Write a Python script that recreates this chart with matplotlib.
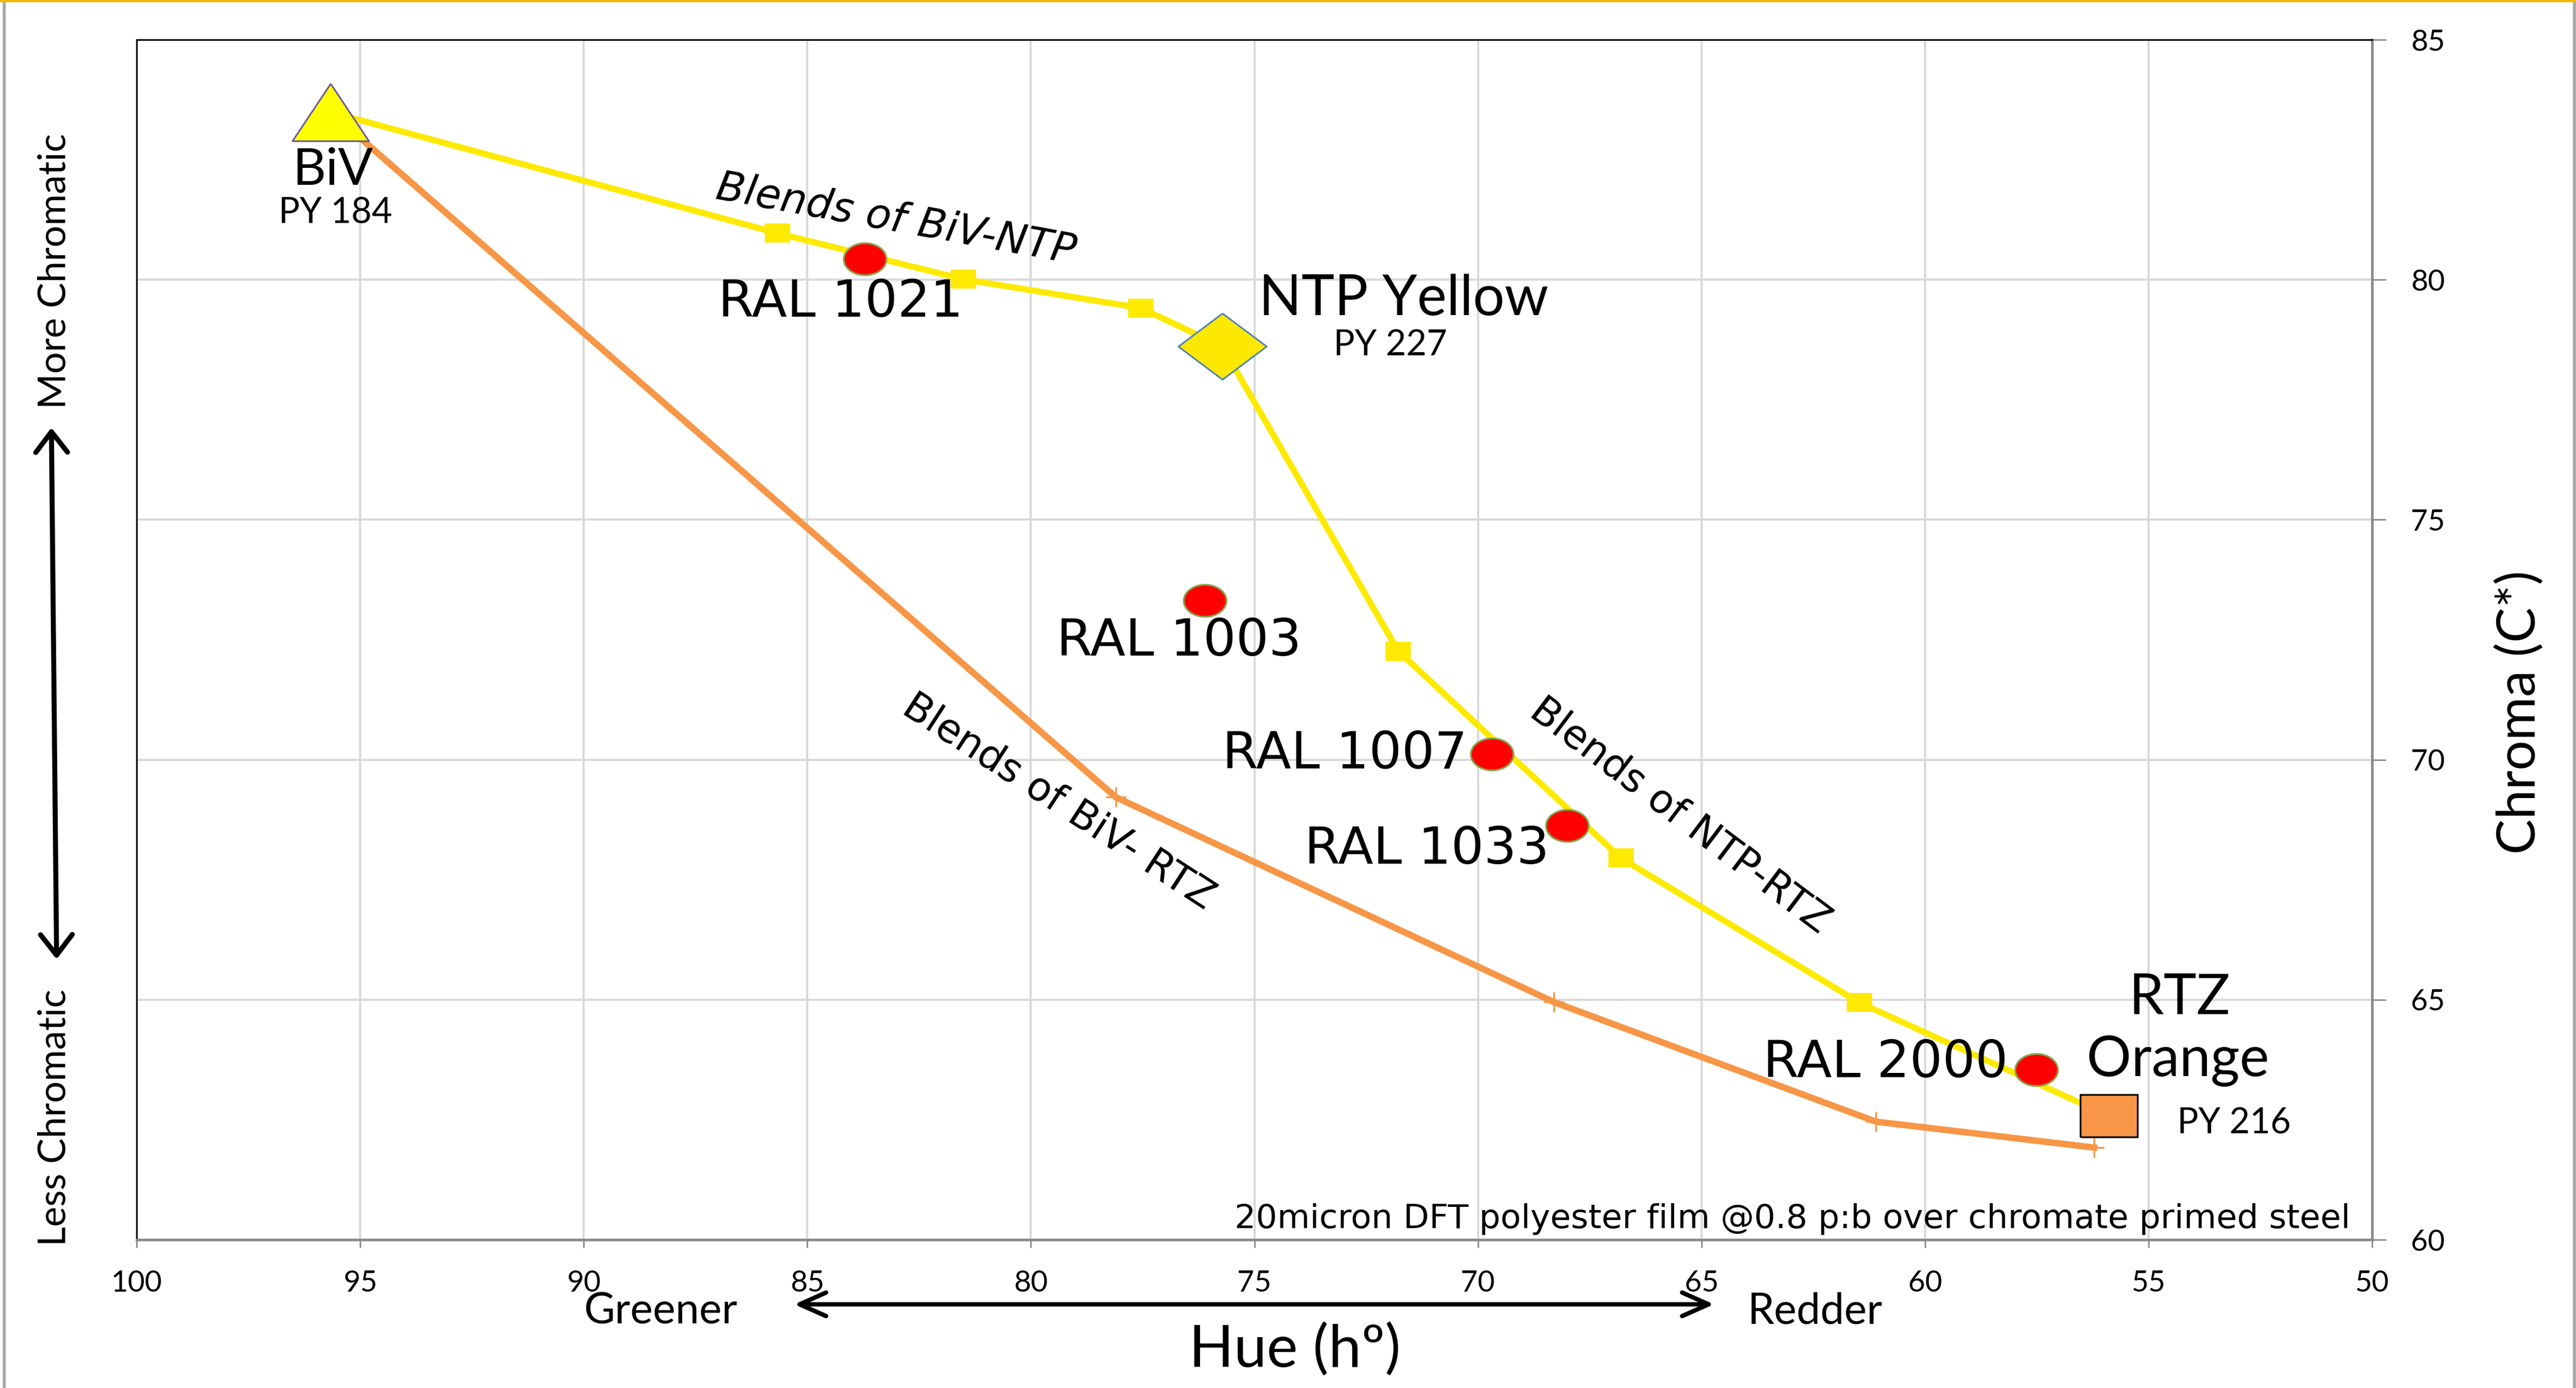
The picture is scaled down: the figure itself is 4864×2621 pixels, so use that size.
import numpy as np
import matplotlib.pyplot as plt
from matplotlib.patches import FancyArrowPatch
from matplotlib.lines import Line2D

W, H = 4864, 2621
DPI = 200

# Data: hue (h) and chroma (C*)
blend_ntp_hue = [95.66, 85.67, 81.51, 77.54, 75.72, 71.78, 66.80, 61.47, 55.89]
blend_ntp_chroma = [83.49, 80.97, 80.01, 79.41, 78.61, 72.26, 67.95, 64.94, 62.58]

blend_rtz_hue = [95.66, 78.10, 68.30, 61.10, 56.22]
blend_rtz_chroma = [83.49, 69.22, 64.95, 62.46, 61.92]

ral_names = ['RAL 1021', 'RAL 1003', 'RAL 1007', 'RAL 1033', 'RAL 2000']
ral_hue = [83.71, 76.11, 69.69, 68.00, 57.51]
ral_chroma = [80.43, 73.32, 70.12, 68.63, 63.54]

biv = (95.66, 83.49)
ntp = (75.72, 78.61)
rtz = (55.89, 62.58)

x_ticks = [100, 95, 90, 85, 80, 75, 70, 65, 60, 55, 50]
y_ticks = [60, 65, 70, 75, 80, 85]

# label anchors (hue, chroma, ha)
ral_label_pos = [(84.26, 79.23, 'center'), (76.68, 72.17, 'center'),
                 (70.24, 69.82, 'right'), (68.40, 67.83, 'right'),
                 (58.14, 63.39, 'right')]

YELLOW = '#FDEA00'
ORANGE = '#F79646'
SANS = ['Lato', 'DejaVu Sans']
WIDE = ['DejaVu Sans']

plt.rcParams['font.family'] = SANS


def px(x, y):
    # figure pixel (from top-left) -> figure fraction
    return x / W, 1 - y / H


fig = plt.figure(figsize=(W / DPI, H / DPI), dpi=DPI)
l, b = px(258, 2341)
r, t = px(4479, 75)
ax = fig.add_axes([l, b, r - l, t - b])

ax.set_xlim(100, 50)
ax.set_ylim(60, 85)
ax.set_xticks(x_ticks)
ax.set_yticks(y_ticks)
ax.grid(True, color='#d9d9d9', lw=1.5)
ax.set_axisbelow(True)

ax.yaxis.tick_right()
ax.tick_params(axis='x', direction='out', length=5.4, width=1.0, color='#888888',
               pad=15, labelsize=20)
ax.tick_params(axis='y', direction='out', length=9.4, width=1.0, color='#888888',
               pad=17, labelsize=20)
for s in ['left', 'top']:
    ax.spines[s].set_color('black')
    ax.spines[s].set_linewidth(1.1)
for s in ['bottom', 'right']:
    ax.spines[s].set_color('#888888')
    ax.spines[s].set_linewidth(1.7)

# marker shapes
rect = [(-1, -0.75), (1, -0.75), (1, 0.75), (-1, 0.75), (-1, -0.75)]
tt = np.linspace(0, 2 * np.pi, 80)
ellipse = np.column_stack([np.cos(tt), 0.75 * np.sin(tt)])
tri = [(0, 0.75), (-1, -0.75), (1, -0.75), (0, 0.75)]
diamond = [(0, 0.75), (1, 0), (0, -0.75), (-1, 0), (0, 0.75)]
rtz_box = [(-1, -0.74), (1, -0.74), (1, 0.74), (-1, 0.74), (-1, -0.74)]

ax.plot(blend_rtz_hue, blend_rtz_chroma, color=ORANGE, lw=4.4, marker='+',
        markersize=14, mew=1.2, markevery=[1, 2, 3, 4], zorder=3)
ax.plot(blend_ntp_hue, blend_ntp_chroma, color=YELLOW, lw=4.2, marker=rect,
        markersize=17, mew=0, markevery=[1, 2, 3, 5, 6, 7], zorder=3)
ax.plot(ral_hue, ral_chroma, ls='none', marker=ellipse, markersize=29,
        mfc='#FF0000', mec='#86A24A', mew=1.2, zorder=4)
ax.plot(*biv, marker=tri, markersize=52, mfc='#FFFF00', mec='#6A55A0', mew=1.1,
        zorder=5, clip_on=False)
ax.plot(*ntp, marker=diamond, markersize=60, mfc='#FCE800', mec='#4F81BD', mew=1.1,
        zorder=5)
ax.plot(*rtz, marker=rtz_box, markersize=39, mfc=ORANGE, mec='black', mew=1.2,
        zorder=5)

for name, (hx, cy, ha) in zip(ral_names, ral_label_pos):
    ax.text(hx, cy, name, ha=ha, va='baseline', fontsize=35, family=WIDE, zorder=6)

ax.text(95.62, 81.98, 'BiV', ha='center', va='baseline', fontsize=35)
ax.text(95.56, 81.18, 'PY 184', ha='center', va='baseline', fontsize=24)
ax.text(74.90, 79.26, 'NTP Yellow', ha='left', va='baseline', fontsize=38)
ax.text(73.23, 78.42, 'PY 227', ha='left', va='baseline', fontsize=24)
ax.text(54.31, 64.70, 'RTZ', ha='center', va='baseline', fontsize=38)
ax.text(54.35, 63.41, 'Orange', ha='center', va='baseline', fontsize=38)
ax.text(54.36, 62.21, 'PY 216', ha='left', va='baseline', fontsize=24)
ax.text(50.49, 60.24, '20micron DFT polyester film @0.8 p:b over chromate primed steel',
        ha='right', va='baseline', fontsize=22.8, family=WIDE)

ax.text(83.01, 81.25, 'Blends of BiV-NTP', rotation=-10.3, rotation_mode='anchor',
        ha='center', va='center', fontsize=28, family=WIDE, style='italic')
ax.text(79.38, 69.11, 'Blends of BiV- RTZ', rotation=-33, rotation_mode='anchor',
        ha='center', va='center', fontsize=27, family=WIDE)
ax.text(65.48, 68.82, 'Blends of NTP-RTZ', rotation=-37, rotation_mode='anchor',
        ha='center', va='center', fontsize=27, family=WIDE)

# axis titles and direction hints
fig.text(*px(2445, 2550), 'Hue (hº)', ha='center', va='center', fontsize=40)
fig.text(*px(4758, 1345), 'Chroma (C*)', ha='center', va='center', fontsize=36,
         rotation=90)
fig.text(*px(1247, 2500), 'Greener', ha='center', va='baseline', fontsize=29)
fig.text(*px(3427, 2500), 'Redder', ha='center', va='baseline', fontsize=29)
fig.text(*px(103, 512), 'More Chromatic', ha='center', va='center', fontsize=26,
         rotation=90)
fig.text(*px(103, 2110), 'Less Chromatic', ha='center', va='center', fontsize=26,
         rotation=90)

fig.add_artist(FancyArrowPatch(px(1494, 2463), px(3242, 2463), transform=fig.transFigure,
                               arrowstyle='<->,head_length=0.45,head_width=0.2',
                               mutation_scale=40, lw=3.0, color='black'))
fig.add_artist(FancyArrowPatch(px(97, 802), px(107, 1817), transform=fig.transFigure,
                               arrowstyle='<->,head_length=0.35,head_width=0.27',
                               mutation_scale=40, lw=3.4, color='black'))

# outer frame bits
fig.add_artist(Line2D([8 / W, 8 / W], [0, 1], color='#a6a6a6', lw=2.0))
fig.add_artist(Line2D([4861 / W, 4861 / W], [0, 1], color='#a6a6a6', lw=2.0))
fig.add_artist(Line2D([0, 1], [1 - 2 / H, 1 - 2 / H], color='#F2B400', lw=1.6))

fig.savefig('out.png', dpi=DPI)
